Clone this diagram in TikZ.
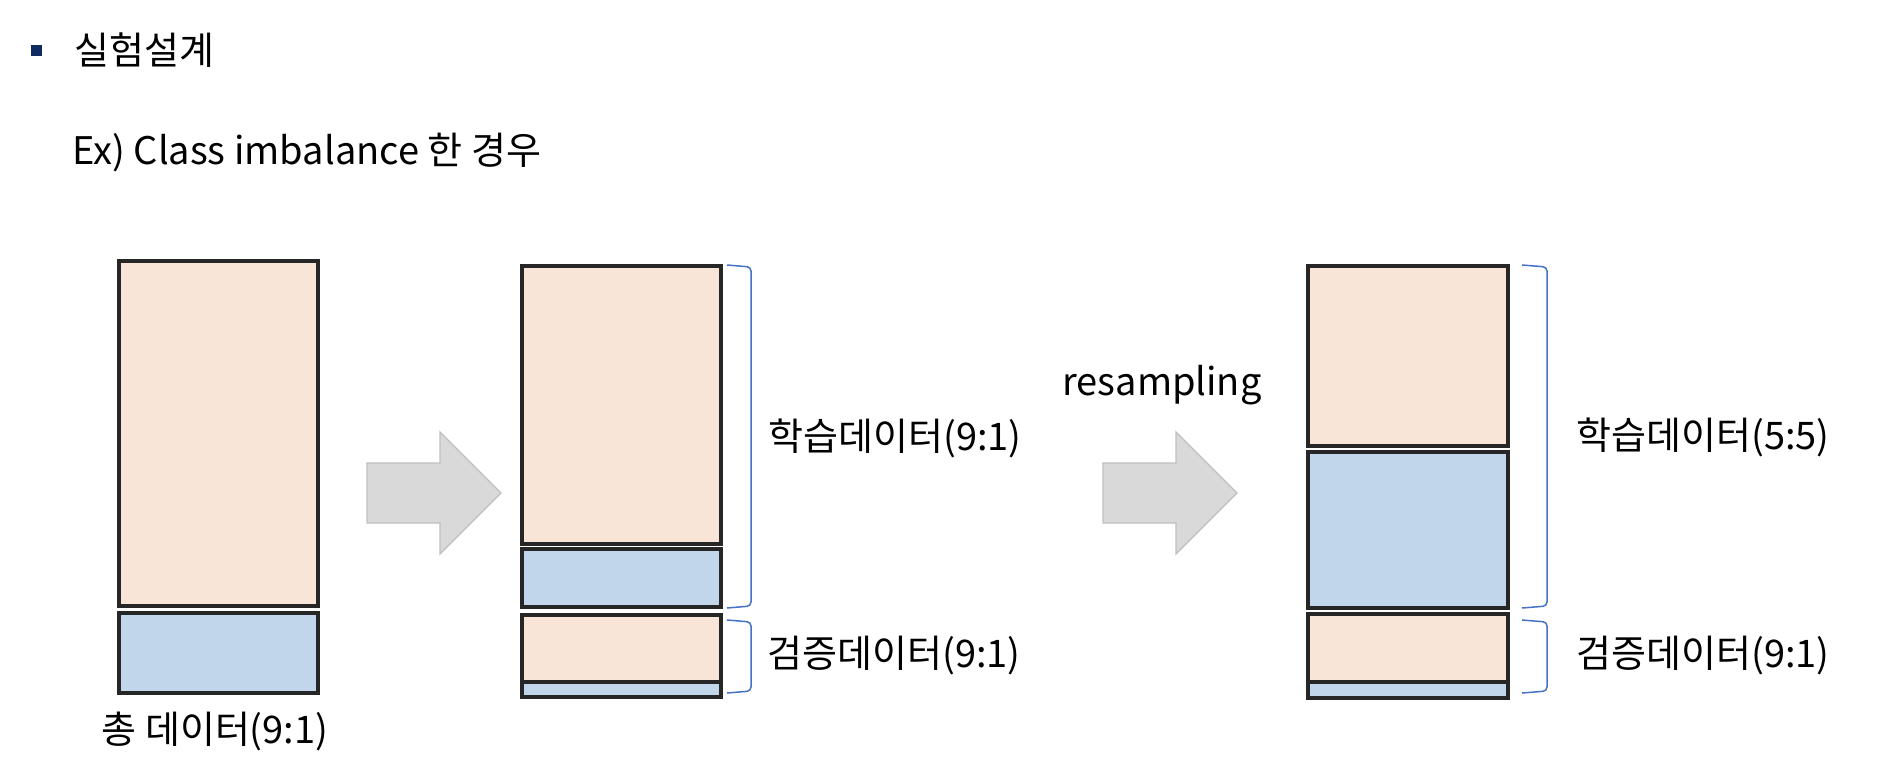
\documentclass[tikz,border=0pt]{standalone}
\usepackage{fontspec}
\setmainfont{Noto Sans CJK KR}
\usetikzlibrary{positioning}

\definecolor{peach}{HTML}{F8E5D8}
\definecolor{skyblue}{HTML}{C1D6EB}
\definecolor{edgegray}{HTML}{262626}
\definecolor{arrowfill}{HTML}{D9D9D9}
\definecolor{arrowline}{HTML}{BFBFBF}
\definecolor{bracketblue}{HTML}{4472C4}
\definecolor{navy}{HTML}{0F2B61}

\begin{document}
\begin{tikzpicture}[
      x=0.5pt, y=-0.5pt,
      inner sep=0pt,
      font=\fontsize{19pt}{23pt}\selectfont,
      major/.style={draw=edgegray, fill=peach, line width=1.7pt},
      minor/.style={draw=edgegray, fill=skyblue, line width=1.7pt},
      bigarrow/.style={draw=arrowline, fill=arrowfill, line width=0.6pt},
      bracket/.style={draw=bracketblue, line width=0.75pt, rounded corners=2pt},
      label/.style={anchor=base west}]

    % page
    \useasboundingbox (0,0) rectangle (1884,778);
    \fill[white] (0,0) rectangle (1884,778);

    % heading
    \fill[navy] (31,45) rectangle (42,56);
    \node[label] (title) at (74,64) {실험설계};
    \node[label] (case) at (72,164) {Ex) Class imbalance 한 경우};

    % total data
    \draw[major] (119,261) rectangle (318,606);
    \draw[minor] (119,613) rectangle (318,693);
    \node[anchor=base] (total) at (215,743) {총 데이터(9:1)};

    % split
    \draw[bigarrow] (367,463) -- (440,463) -- (440,432) -- (501,493)
        -- (440,554) -- (440,523) -- (367,523) -- cycle;

    % train / valid y=266
    \draw[major] (522,266) rectangle (721,544);
    \draw[minor] (522,549) rectangle (721,607);
    \draw[major] (522,615) rectangle (721,682);
    \draw[minor] (522,682) rectangle (721,697);

    \draw[bracket] (727,265) -- (751,267) -- (751,606) -- (727,608);
    \draw[bracket] (727,620) -- (751,622) -- (751,691) -- (727,693);
    \node[label] (train) at (768,450) {학습데이터(9:1)};
    \node[label] (valid) at (767,667) {검증데이터(9:1)};

    % resampling
    \node[label] (resample) at (1062,395) {resampling};
    \draw[bigarrow] (1103,463) -- (1176,463) -- (1176,432) -- (1237,493)
        -- (1176,554) -- (1176,523) -- (1103,523) -- cycle;

    % balanced train / valid
    \draw[major] (1308,266) rectangle (1508,446);
    \draw[minor] (1308,452) rectangle (1508,608);
    \draw[major] (1308,614) rectangle (1508,682);
    \draw[minor] (1308,682) rectangle (1508,698);

    \draw[bracket] (1522,265) -- (1547,267) -- (1547,606) -- (1522,608);
    \draw[bracket] (1522,620) -- (1547,622) -- (1547,691) -- (1522,693);
    \node[label] (trainbal) at (1576,449) {학습데이터(5:5)};
    \node[label] (validbal) at (1576,667) {검증데이터(9:1)};

  \end{tikzpicture}
\end{document}
